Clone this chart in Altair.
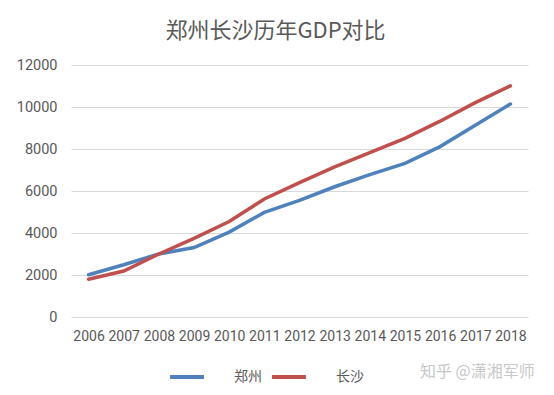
import altair as alt
import pandas as pd

years = [str(y) for y in range(2006, 2019)]
zhengzhou = [2013, 2487, 3004, 3309, 4041, 4980, 5550, 6202, 6777, 7315, 8114, 9130, 10143]
changsha = [1799, 2190, 3001, 3745, 4547, 5619, 6400, 7153, 7825, 8510, 9324, 10210, 11003]
series = ["郑州", "长沙"]
colors = ["#4f81bd", "#c0504d"]

rows = []
for i, y in enumerate(years):
    rows.append({"year": y, "city": series[0], "gdp": zhengzhou[i]})
    rows.append({"year": y, "city": series[1], "gdp": changsha[i]})
df = pd.DataFrame(rows)

font = "Roboto"
cjk = "Noto Sans CJK SC"
grey = "#595959"

lines = alt.Chart(df).mark_line(strokeWidth=3.5, strokeCap="round").encode(
    x=alt.X("year:N", sort=years, title=None,
            scale=alt.Scale(paddingInner=0, paddingOuter=0.5),
            axis=alt.Axis(labelAngle=0, ticks=False, domain=False, labelPadding=12,
                          labelFont=font, labelFontSize=14, labelColor=grey, grid=False)),
    y=alt.Y("gdp:Q", title=None,
            scale=alt.Scale(domain=[0, 12000], nice=False),
            axis=alt.Axis(values=[0, 2000, 4000, 6000, 8000, 10000, 12000], format="d",
                          ticks=False, domain=False, labelPadding=14,
                          labelFont=font, labelFontSize=14.5, labelColor=grey,
                          gridColor="#d9d9d9", gridWidth=1)),
    color=alt.Color("city:N", sort=series,
                    scale=alt.Scale(domain=series, range=colors),
                    legend=alt.Legend(title=None, orient="none", direction="horizontal",
                                      legendX=97, legendY=293,
                                      symbolType="stroke", symbolSize=1150,
                                      symbolStrokeWidth=4, labelOffset=28,
                                      columnPadding=2, labelFont=cjk,
                                      labelFontSize=14, labelColor=grey)),
    detail="city:N",
)

watermark = alt.Chart(pd.DataFrame({"t": ["知乎 @潇湘军师"]})).mark_text(
    font=cjk, fontSize=16, color="#c8c8c8", align="left", baseline="middle"
).encode(x=alt.value(349), y=alt.value(307), text="t:N")

chart = alt.layer(lines, watermark).properties(
    width=457, height=252,
    autosize=alt.AutoSizeParams(type="none"),
    padding={"left": 63, "top": 57, "right": 18, "bottom": 70},
    title=alt.TitleParams("郑州长沙历年GDP对比", font=cjk, fontSize=22,
                          fontWeight="normal", color=grey, anchor="middle",
                          dx=-24, offset=14),
    background="white",
).configure_view(stroke=None)

chart.save("out.html", embed_options={"renderer": "svg", "actions": False})
